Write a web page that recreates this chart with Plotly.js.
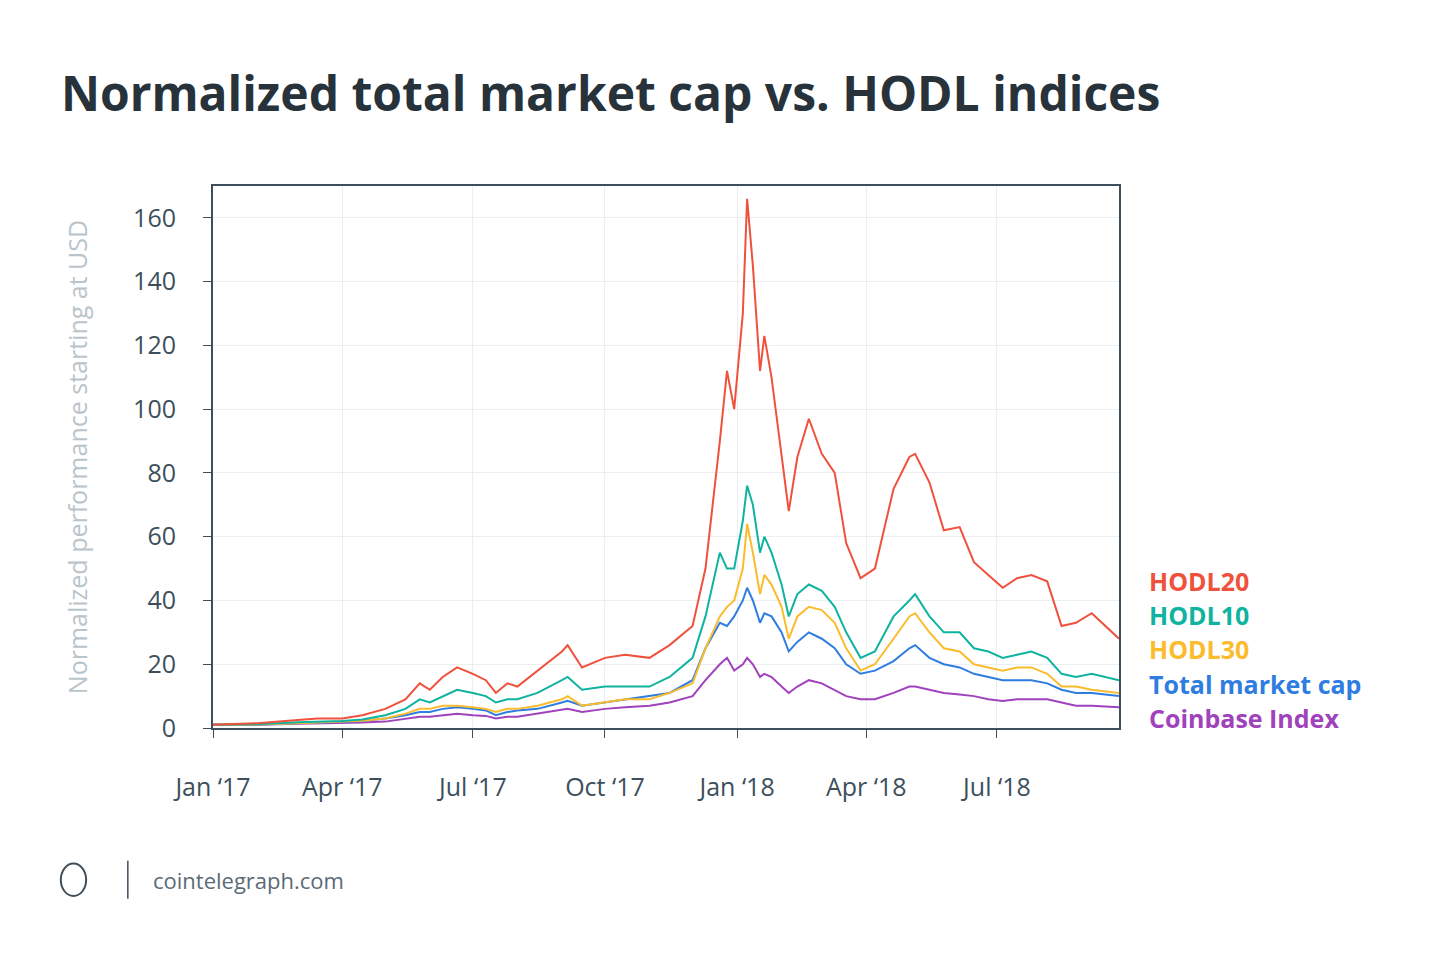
<!DOCTYPE html>
<html>
<head>
<meta charset="utf-8">
<script src="https://cdn.plot.ly/plotly-3.0.1.min.js"></script>
<style>body{margin:0;background:#fff}#chart{width:1450px;height:961px}</style>
</head>
<body>
<div id="chart"></div>
<script>
var dates = ['2017-01-01','2017-02-01','2017-03-01','2017-03-15','2017-04-01','2017-04-15','2017-05-01','2017-05-15','2017-05-25','2017-06-01','2017-06-10','2017-06-20','2017-07-01','2017-07-10','2017-07-17','2017-07-25','2017-08-01','2017-08-15','2017-09-01','2017-09-05','2017-09-15','2017-10-01','2017-10-15','2017-11-01','2017-11-15','2017-12-01','2017-12-10','2017-12-20','2017-12-25','2017-12-30','2018-01-05','2018-01-08','2018-01-12','2018-01-17','2018-01-20','2018-01-25','2018-02-01','2018-02-06','2018-02-12','2018-02-20','2018-03-01','2018-03-10','2018-03-18','2018-03-28','2018-04-07','2018-04-20','2018-05-01','2018-05-05','2018-05-15','2018-05-25','2018-06-05','2018-06-15','2018-06-25','2018-07-05','2018-07-15','2018-07-25','2018-08-05','2018-08-15','2018-08-25','2018-09-05','2018-09-24'];
var hodl20 = [1,1.5,2.5,3,3,4,6,9,14,12,16,19,17,15,11,14,13,18,24,26,19,22,23,22,26,32,50,90,112,100,130,166,145,112,123,110,85,68,85,97,86,80,58,47,50,75,85,86,77,62,63,52,48,44,47,48,46,32,33,36,28];
var hodl10 = [1,1.2,1.8,2,2.2,2.7,4,6,9,8,10,12,11,10,8,9,9,11,15,16,12,13,13,13,16,22,35,55,50,50,65,76,70,55,60,55,45,35,42,45,43,38,30,22,24,35,40,42,35,30,30,25,24,22,23,24,22,17,16,17,15];
var hodl30 = [1,1.1,1.5,1.7,2,2.3,3,4.5,6,6,7,7,6.5,6,5,6,6,7,9,10,7,8,9,9,11,14,25,35,38,40,50,64,55,42,48,45,38,28,35,38,37,33,25,18,20,28,35,36,30,25,24,20,19,18,19,19,17,13,13,12,11];
var total = [1,1.1,1.5,1.7,2,2.2,3,4,5,5,6,6.5,6,5.5,4,5,5.5,6,8,8.5,7,8,9,10,11,15,25,33,32,35,40,44,40,33,36,35,30,24,27,30,28,25,20,17,18,21,25,26,22,20,19,17,16,15,15,15,14,12,11,11,10];
var coinbase = [1,1,1.3,1.4,1.6,1.7,2,3,3.5,3.5,4,4.5,4,3.8,3,3.5,3.5,4.5,5.5,6,5,6,6.5,7,8,10,15,20,22,18,20,22,20,16,17,16,13,11,13,15,14,12,10,9,9,11,13,13,12,11,10.5,10,9,8.5,9,9,9,8,7,7,6.5];
var names = ['HODL20','HODL10','HODL30','Total market cap','Coinbase Index'];
var colors = ['#f0513c','#0fb3a0','#fbbc2c','#2f7de1','#a142bd'];
var series = [hodl20, hodl10, hodl30, total, coinbase];
var tickVals = ['2017-01-01','2017-04-01','2017-07-01','2017-10-01','2018-01-01','2018-04-01','2018-07-01'];
var tickText = ['Jan \u201817','Apr \u201817','Jul \u201817','Oct \u201817','Jan \u201818','Apr \u201818','Jul \u201818'];

var data = series.slice().reverse().map(function(s, k){
  var i = series.length - 1 - k;
  return {x: dates, y: s, type: 'scatter', mode: 'lines', name: names[i],
    line: {color: colors[i], width: 2}};
});

var annotations = names.map(function(n, i){
  return {xref: 'paper', yref: 'paper', x: 1.031, y: 0.271 - i*0.063, xanchor: 'left', yanchor: 'middle',
    text: '<b>' + n + '</b>', showarrow: false, font: {size: 25, color: colors[i], family: 'Open Sans'}};
});
annotations.push({xref: 'paper', yref: 'paper', x: -0.068, y: -0.28, xanchor: 'left', yanchor: 'middle', showarrow: false,
  text: 'cointelegraph.com', font: {size: 22, color: '#5b6b76', family: 'Open Sans'}});

var layout = {
  width: 1450, height: 961,
  margin: {l: 213, r: 331, t: 186, b: 233},
  paper_bgcolor: '#fff', plot_bgcolor: '#fff',
  showlegend: false,
  font: {family: 'Open Sans', color: '#3d4f5c'},
  title: {text: '<b>Normalized total market cap vs. HODL indices</b>', x: 0.042, xanchor: 'left', y: 0.885, yanchor: 'bottom',
    font: {size: 48, color: '#27323a'}},
  xaxis: {type: 'date', range: ['2017-01-01','2018-09-24'], tickvals: tickVals, ticktext: tickText,
    ticks: 'outside', ticklen: 8, tickcolor: '#3d4f5c', ticklabelstandoff: 28,
    showgrid: true, gridcolor: '#eceff1', showline: true, linecolor: '#3d4f5c', linewidth: 2, mirror: true,
    tickfont: {size: 25, color: '#3d4f5c'}},
  yaxis: {range: [0, 170], tickvals: [0,20,40,60,80,100,120,140,160],
    ticks: 'outside', ticklen: 8, tickcolor: '#3d4f5c', ticklabelstandoff: 22,
    showgrid: true, gridcolor: '#eceff1', showline: true, linecolor: '#3d4f5c', linewidth: 2, mirror: true,
    zeroline: false, tickfont: {size: 25, color: '#3d4f5c'},
    title: {text: 'Normalized performance starting at USD', standoff: 38, font: {size: 25, color: '#b9c4cb'}}},
  annotations: annotations,
  shapes: [{type: 'line', xref: 'paper', yref: 'paper', x0: -0.094, x1: -0.094, y0: -0.245, y1: -0.315,
    line: {color: '#3d4f5c', width: 1.5}},
    {type: 'circle', xref: 'paper', yref: 'paper', x0: -0.168, x1: -0.14, y0: -0.25, y1: -0.31,
    line: {color: '#3d4f5c', width: 2}}]
};

Plotly.newPlot('chart', data, layout, {displayModeBar: false});
</script>
</body>
</html>
